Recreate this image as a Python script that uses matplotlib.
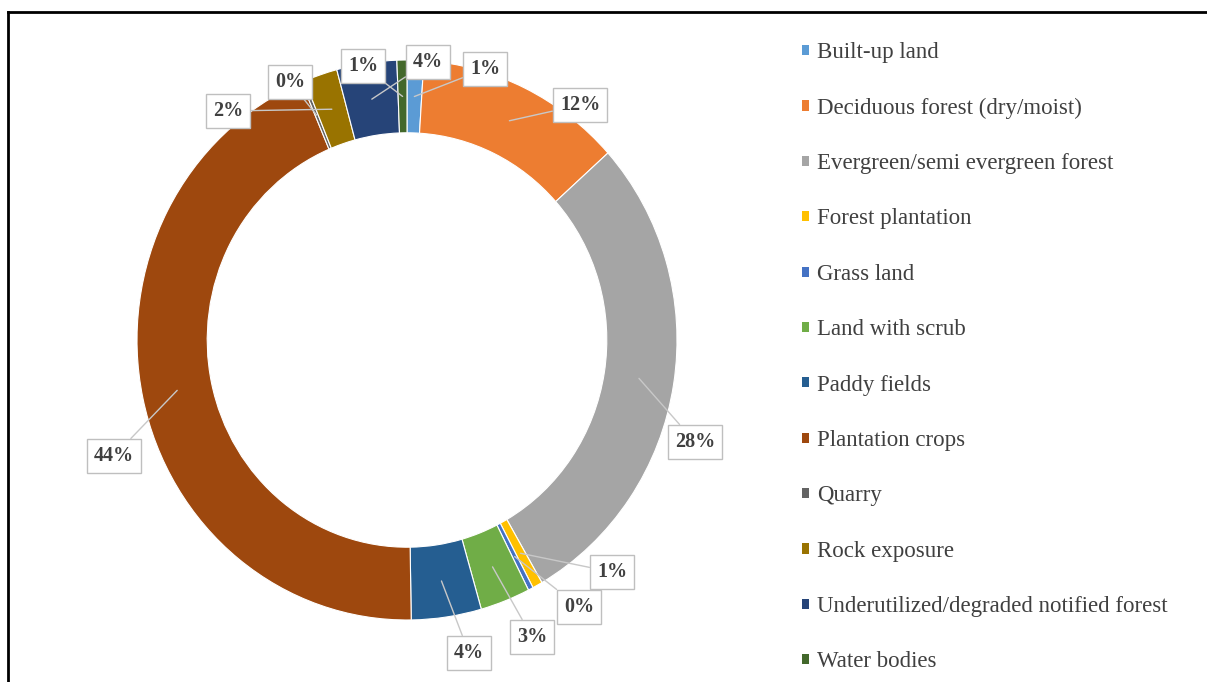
import numpy as np
import matplotlib
matplotlib.use("Agg")
import matplotlib.pyplot as plt
from matplotlib.lines import Line2D
from matplotlib.patches import Patch

plt.rcParams["font.family"] = ["Liberation Serif", "DejaVu Serif"]

categories = [
    "Built-up land",
    "Deciduous forest (dry/moist)",
    "Evergreen/semi evergreen forest",
    "Forest plantation",
    "Grass land",
    "Land with scrub",
    "Paddy fields",
    "Plantation crops",
    "Quarry",
    "Rock exposure",
    "Underutilized/degraded notified forest",
    "Water bodies",
]
shares = [1.0, 12.4, 28.4, 0.6, 0.3, 3.0, 4.2, 44.0, 0.2, 2.0, 3.6, 0.6]
colors = ["#5B9BD5", "#ED7D31", "#A5A5A5", "#FFC000", "#4472C4", "#70AD47",
          "#255E91", "#9E480E", "#636363", "#997300", "#264478", "#43682B"]

# label box centres, pixels of the 1207x682 picture
label_px = [(485, 69), (580, 105), (695, 442), (612, 572), (579, 607),
            (532, 637), (469, 653), (114, 456), (290, 82), (228, 111),
            (428, 62), (363, 66)]

W, H = 1207, 682
CX, CY, RX, RY = 407, 340, 270, 280   # pie centre and radii in pixels


def px2data(p):
    return ((p[0] - CX) / RX, (CY - p[1]) / RY)


fig = plt.figure(figsize=(W / 100, H / 100), dpi=100)
ax = fig.add_axes([0, 0, 1, 1])

wedges, _ = ax.pie(shares, colors=colors, startangle=90, counterclock=False,
                   radius=1.0,
                   wedgeprops=dict(width=0.26, edgecolor="white", linewidth=0.8))
ax.set_aspect("auto")
ax.set_xlim(-CX / RX, (W - CX) / RX)
ax.set_ylim(-(H - CY) / RY, CY / RY)
ax.axis("off")

total = sum(shares)
for i, w in enumerate(wedges):
    ang = np.deg2rad((w.theta1 + w.theta2) / 2)
    tip = (0.87 * np.cos(ang), 0.87 * np.sin(ang))
    pct = shares[i] / total * 100
    ax.annotate(f"{pct:.0f}%", xy=tip, xytext=px2data(label_px[i]),
                ha="center", va="center", fontsize=14.5, fontweight="bold",
                color="#404040",
                bbox=dict(boxstyle="square,pad=0.35", fc="white",
                          ec="#bfbfbf", lw=1),
                arrowprops=dict(arrowstyle="-", color="#c8c8c8", lw=1,
                                shrinkA=0, shrinkB=0))

handles = [Patch(facecolor=c, edgecolor="none") for c in colors]
leg = fig.legend(handles, categories, loc="upper left",
                 bbox_to_anchor=(793 / W, 1 - 33 / H), frameon=False,
                 fontsize=16.5, handlelength=0.3, handleheight=0.3,
                 handletextpad=0.35, labelspacing=1.50, borderaxespad=0)
for t in leg.get_texts():
    t.set_color("#404040")

# outer frame (left and top edges visible)
fig.add_artist(Line2D([8 / W, 8 / W], [0, 1 - 12 / H], color="black", lw=2,
                      transform=fig.transFigure))
fig.add_artist(Line2D([8 / W, 1], [1 - 12 / H, 1 - 12 / H], color="black", lw=2,
                      transform=fig.transFigure))

fig.savefig("out.png", dpi=100)
